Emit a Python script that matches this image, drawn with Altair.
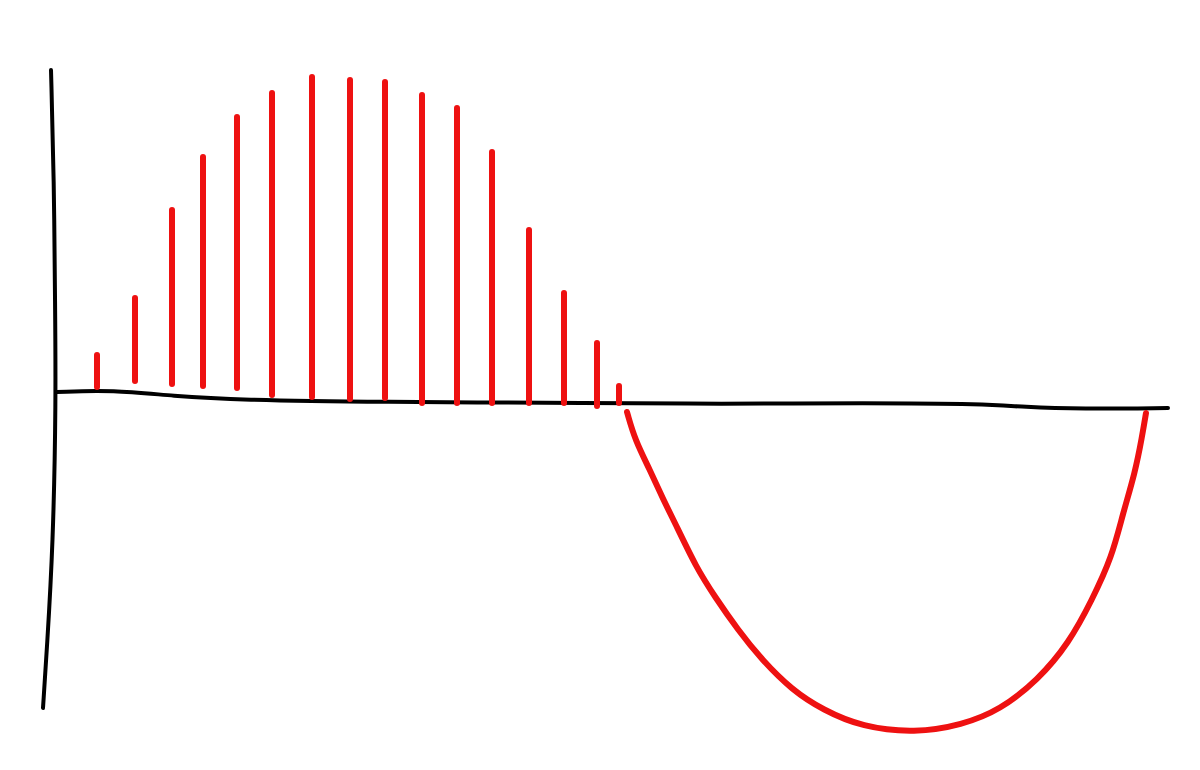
import altair as alt
import pandas as pd

# stems (positive half): x position, base and top (y up, baseline ~0)
stem_x = [97, 135, 172, 203, 237, 272, 312, 350, 385, 422, 457, 492, 529, 564, 597, 619]
stem_top = [355, 298, 210, 157, 117, 93, 77, 80, 82, 95, 108, 152, 230, 293, 343, 386]
stem_bot = [387, 381, 384, 386, 388, 395, 397, 399, 398, 403, 403, 403, 403, 403, 406, 403]

# negative half curve
curve_x = [627, 635, 650, 662, 677, 696, 715, 738, 762, 792, 823, 862, 915,
           962, 1000, 1038, 1069, 1092, 1112, 1123, 1135, 1142, 1146]
curve_y = [412, 440, 470, 497, 527, 567, 597, 630, 660, 690, 710, 727, 733,
           725, 710, 680, 643, 600, 557, 513, 473, 437, 413]

# hand-drawn axes
xaxis_x = [57, 113, 173, 240, 373, 600, 715, 869, 985, 1023, 1081, 1168]
xaxis_y = [392, 390, 396, 400, 402, 403, 404, 403, 404, 407, 409, 408]
yaxis_x = [51, 54, 55, 56, 53, 47, 43]
yaxis_y = [70, 180, 300, 400, 547, 647, 708]

REF = 400  # flip picture rows to an upward value axis


def flip(v):
    return [REF - a for a in v]


stems = pd.DataFrame({"x": stem_x, "y0": flip(stem_bot), "y1": flip(stem_top)})
curve = pd.DataFrame({"x": curve_x, "y": flip(curve_y), "i": range(len(curve_x))})
xa = pd.DataFrame({"x": xaxis_x, "y": flip(xaxis_y), "i": range(len(xaxis_x))})
ya = pd.DataFrame({"x": yaxis_x, "y": flip(yaxis_y), "i": range(len(yaxis_x))})

xs = alt.Scale(domain=[8, 1192], nice=False, zero=False)
ys = alt.Scale(domain=[REF - 762, REF - 8], nice=False, zero=False)

X = alt.X("x:Q", scale=xs, axis=None)
Y = alt.Y("y:Q", scale=ys, axis=None)

axis_x_line = alt.Chart(xa).mark_line(color="black", strokeWidth=4, strokeCap="round",
                                      interpolate="basis").encode(x=X, y=Y, order="i:Q")
axis_y_line = alt.Chart(ya).mark_line(color="black", strokeWidth=4, strokeCap="round",
                                      interpolate="basis").encode(x=X, y=Y, order="i:Q")
stem_layer = alt.Chart(stems).mark_rule(color="#ee1111", strokeWidth=6, strokeCap="round").encode(
    x=X, y=alt.Y("y0:Q", scale=ys, axis=None), y2="y1:Q")
curve_layer = alt.Chart(curve).mark_line(color="#ee1111", strokeWidth=6, strokeCap="round",
                                         interpolate="basis").encode(x=X, y=Y, order="i:Q")

chart = alt.layer(axis_x_line, axis_y_line, stem_layer, curve_layer).properties(
    width=1184, height=754,
    autosize=alt.AutoSizeParams(type="fit", contains="padding"),
    padding=0,
    background="white",
).configure_view(stroke=None)

chart.save("out.html", embed_options={"renderer": "svg", "actions": False})
